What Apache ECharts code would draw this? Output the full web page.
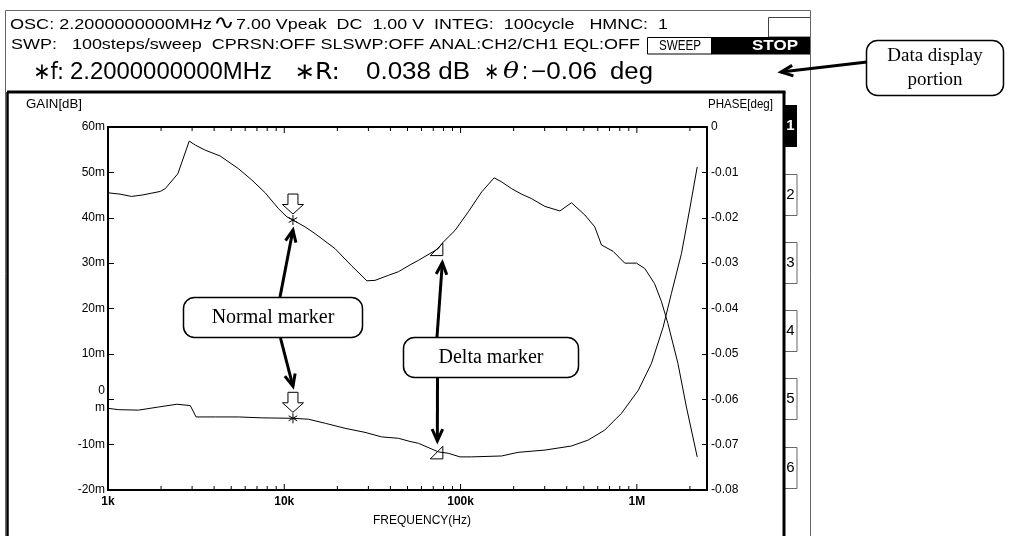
<!DOCTYPE html>
<html><head><meta charset="utf-8">
<script src="https://cdn.jsdelivr.net/npm/echarts@6/dist/echarts.min.js"></script>
<style>html,body{margin:0;padding:0;background:#fff}#c{width:1018px;height:536px}</style>
</head><body><div id="c"></div>
<script>
// ---- data ----
const gainFreqHz = [1000,1170,1360,1560,1980,2110,2490,2890,3130,3560,4330,5500,6550,7790,9270,10350,11200,13100,14950,19400,24100,29400,32700,38900,44400,51600,57600,74800,78200,93000,110600,131800,155000,171000,195000,222000,253000,301000,366000,426000,507000,577000,630000,733000,854000,995000,1110000,1260000,1380000,1500000,1710000,1910000,2200000];
const gainMilliDb = [45.5,45.2,44.7,45.0,45.8,46.4,49.7,56.9,56.0,54.9,53.6,50.8,48.3,45.5,42.0,40.2,39.5,38.0,36.5,33.2,29.4,26.1,26.2,27.3,28.1,29.6,30.6,33.2,34.3,37.2,41.3,45.7,48.8,47.9,46.4,45.2,44.2,42.5,41.5,43.3,40.6,38.0,34.0,32.6,30.0,30.0,28.8,25.5,21.5,16.7,7.9,-1.7,-12.7];
const phaseFreqHz = [1000,1150,1490,1940,2460,2930,3160,4060,5500,7460,11200,13700,17100,22100,28700,35700,44400,51600,57600,74800,85000,99300,115600,171000,212000,301000,426000,529000,657000,818000,1020000,1210000,1410000,1570000,1790000,1990000,2200000];
const phaseDeg = [-0.0620,-0.0623,-0.0624,-0.0617,-0.0611,-0.0614,-0.0639,-0.0639,-0.0639,-0.0641,-0.0642,-0.0644,-0.0653,-0.0664,-0.0673,-0.0683,-0.0686,-0.0693,-0.0697,-0.0716,-0.0719,-0.0727,-0.0727,-0.0725,-0.0717,-0.0712,-0.0703,-0.0690,-0.0668,-0.0631,-0.0580,-0.0521,-0.0441,-0.0367,-0.0279,-0.0183,-0.0088];
const normalMarkerHz = 11200;
const deltaMarkerHz = 74800;
const freqLabels = {1000:'1k',10000:'10k',100000:'100k',1000000:'1M'};
const gainTickLabels = ['-20m','-10m','0\nm','10m','20m','30m','40m','50m','60m'];
const phaseTickLabels = ['-0.08','-0.07','-0.06','-0.05','-0.04','-0.03','-0.02','-0.01','0'];
const headerRow1 = ['OSC: 2.2000000000MHz','7.00 Vpeak  DC  1.00 V  INTEG:  100cycle   HMNC:  1'];
const headerRow2 = ['SWP:   100steps/sweep  CPRSN:OFF SLSWP:OFF ANAL:CH2/CH1 EQL:OFF'];
const headerRow3 = ['∗f:','2.2000000000MHz','∗R:','0.038 dB','∗','θ',':','−0.06','deg'];

// ---- layout (pixel spans for header words) ----
const row1Span = [[10,212],[236,668]];
const row2Span = [[11,640]];
const row3Span = [[33,64],[70,272],[294,340],[366,470],[484,499],[503,519],[522,528],[531,597],[610,653]];

// ---- chart ----
const gainData = gainFreqHz.map((f,i)=>[f,gainMilliDb[i]]);
const phaseData = phaseFreqHz.map((f,i)=>[f,phaseDeg[i]]);
const gIdx = (f)=>gainFreqHz.indexOf(f), pIdx=(f)=>phaseFreqHz.indexOf(f);
const gainMarkers = [[normalMarkerHz, gainMilliDb[gIdx(normalMarkerHz)], 0],[deltaMarkerHz, gainMilliDb[gIdx(deltaMarkerHz)], 1]];
const phaseMarkers = [[normalMarkerHz, phaseDeg[pIdx(normalMarkerHz)], 0],[deltaMarkerHz, phaseDeg[pIdx(deltaMarkerHz)], 1]];
const xTicks = [];
for (let d=1000; d<2.5e6; d*=10) for (let m=1;m<=9;m++){const f=d*m; if(f>1000 && f<2.5e6) xTicks.push([f, m===1?1:0]);}

const FONT = '"Liberation Sans", Arial, sans-serif';
const chart = echarts.init(document.getElementById('c'), null, {renderer:'canvas'});

function markerItem(params, api){
  const p = api.coord([api.value(0), api.value(1)]);
  const x=p[0], y=p[1], kind=api.value(2);
  const st = {stroke:'#000', fill:'#fff', lineWidth:1};
  if (kind===0){
    const r=5, h=10.5;
    return {type:'group', children:[
      {type:'polygon', shape:{points:[[x-r,y-26],[x+r,y-26],[x+r,y-15.5],[x+h,y-15.5],[x,y-6],[x-h,y-15.5],[x-r,y-15.5]]}, style:st},
      {type:'line', shape:{x1:x,y1:y-5,x2:x,y2:y+5}, style:{stroke:'#000',lineWidth:1}},
      {type:'line', shape:{x1:x-4.3,y1:y-2.5,x2:x+4.3,y2:y+2.5}, style:{stroke:'#000',lineWidth:1}},
      {type:'line', shape:{x1:x-4.3,y1:y+2.5,x2:x+4.3,y2:y-2.5}, style:{stroke:'#000',lineWidth:1}}
    ]};
  }
  return {type:'polygon', shape:{points:[[x-8,y+7],[x+4.5,y+7],[x+4.5,y-5.5]]}, style:{stroke:'#000', fill:'none', lineWidth:1}};
}

chart.setOption({
  animation:false,
  grid:{left:108, top:127, width:599, height:363, show:true, borderColor:'#000', borderWidth:2, backgroundColor:'transparent'},
  xAxis:{type:'log', logBase:10, min:1000, max:2.5e6,
    axisLine:{show:true, onZero:false, lineStyle:{color:'#000', width:2}}, axisTick:{show:false}, splitLine:{show:false},
    axisLabel:{color:'#000', fontFamily:FONT, fontWeight:'bold', fontSize:12, margin:6, showMaxLabel:false,
      formatter:(v)=>freqLabels[Math.round(v)]||''}},
  yAxis:[
    {type:'value', min:-20, max:60, interval:10, position:'left',
     axisLine:{show:true, onZero:false, lineStyle:{color:'#000', width:2}},
     axisTick:{show:true, inside:true, length:6, lineStyle:{color:'#000', width:1}},
     splitLine:{show:false},
     axisLabel:{color:'#000', fontFamily:FONT, fontSize:12, margin:3, lineHeight:17,
       formatter:(v)=>gainTickLabels[Math.round((v+20)/10)]}},
    {type:'value', min:-0.08, max:0, interval:0.01, position:'right',
     axisLine:{show:true, onZero:false, lineStyle:{color:'#000', width:2}},
     axisTick:{show:true, inside:true, length:5, lineStyle:{color:'#000', width:1}},
     splitLine:{show:false},
     axisLabel:{color:'#000', fontFamily:FONT, fontSize:12, margin:4,
       formatter:(v)=>phaseTickLabels[Math.round((v+0.08)*100)]}}
  ],
  series:[
    {type:'line', name:'GAIN', yAxisIndex:0, data:gainData, showSymbol:false, symbol:'none', lineStyle:{color:'#000', width:1}, silent:true},
    {type:'line', name:'PHASE', yAxisIndex:1, data:phaseData, showSymbol:false, symbol:'none', lineStyle:{color:'#000', width:1}, silent:true},
    {type:'custom', yAxisIndex:0, data:xTicks, silent:true, clip:false, z:5,
     renderItem:(params, api)=>{
       const cs=params.coordSys; const x=api.coord([api.value(0), 0])[0]; const L=api.value(1)?6:4;
       const b=cs.y+cs.height, t=cs.y;
       return {type:'group', children:[
         {type:'line', shape:{x1:x,y1:b,x2:x,y2:b-L}, style:{stroke:'#000',lineWidth:1}},
         {type:'line', shape:{x1:x,y1:t,x2:x,y2:t+L}, style:{stroke:'#000',lineWidth:1}}]};
     }},
    {type:'custom', yAxisIndex:0, data:gainMarkers, renderItem:markerItem, silent:true, clip:false, z:6},
    {type:'custom', yAxisIndex:1, data:phaseMarkers, renderItem:markerItem, silent:true, clip:false, z:6}
  ]
});

// ---- annotations ----
const mctx = document.createElement('canvas').getContext('2d');
function txt(t,x,y,font,opt){opt=opt||{};return {type:'text', x:x, y:y, z:opt.z||10, style:{text:t, font:font, fill:opt.fill||'#000', align:opt.align||'left', textAlign:opt.align||'left', verticalAlign:'middle', textVerticalAlign:'middle'}};}
function fit(t,x0,x1,y,font,opt){
  mctx.font=font; const w=mctx.measureText(t).width;
  const e=txt(t,x0,y,font,opt); e.scaleX=(x1-x0)/w; return e;
}
function ln(x1,y1,x2,y2,w,c){return {type:'line', z:8, shape:{x1,y1,x2,y2}, style:{stroke:c||'#000', lineWidth:w||1}};}
function rect(x,y,w,h,fill,stroke,lw,r){return {type:'rect', z:7, shape:{x,y,width:w,height:h,r:r||0}, style:{fill:fill, stroke:stroke||null, lineWidth:lw||1}};}
function arrow(x1,y1,x2,y2){
  const a=Math.atan2(y2-y1,x2-x1), L=13, s=0.42;
  return [ln(x1,y1,x2,y2,3),
    {type:'polyline', z:8, shape:{points:[[x2-L*Math.cos(a-s),y2-L*Math.sin(a-s)],[x2,y2],[x2-L*Math.cos(a+s),y2-L*Math.sin(a+s)]]}, style:{stroke:'#000', lineWidth:3, fill:null, lineJoin:'miter'}}];
}
const px = (f,v,yi)=>chart.convertToPixel({xAxisIndex:0, yAxisIndex:yi}, [f,v]);
const nG = px(normalMarkerHz, gainMarkers[0][1], 0), nP = px(normalMarkerHz, phaseMarkers[0][1], 1);
const dG = px(deltaMarkerHz, gainMarkers[1][1], 0), dP = px(deltaMarkerHz, phaseMarkers[1][1], 1);

const SERIF = '"Liberation Serif", "Times New Roman", serif';
const g = [];
// frames
g.push(ln(5.5,10.5,5.5,536,1,'#666'), ln(5.5,10.5,810.5,10.5,1,'#666'), ln(810.5,10.5,810.5,536,1,'#666'));
g.push(rect(768.5,17.5,42,19.5,'#fff','#444',1));
g.push(ln(7,92,785.5,92,3), ln(7.5,92,7.5,536,2.5), ln(784,92,784,536,3));
// header
const F1 = '15px '+FONT;
headerRow1.forEach((t,i)=>g.push(fit(t,row1Span[i][0],row1Span[i][1],25,F1)));
g.push(fit('∿',213,235,24,'20px "DejaVu Sans"'));
headerRow2.forEach((t,i)=>g.push(fit(t,row2Span[i][0],row2Span[i][1],45,F1)));
g.push(rect(647.5,37.5,64,16.5,'#fff','#000',1));
g.push(fit('SWEEP',659,701,45.5,F1));
g.push(rect(711,37,100,17.5,'#000'));
g.push(fit('STOP',752,798,45.5,'bold 15px '+FONT,{fill:'#fff'}));
headerRow3.forEach((t,i)=>{
  const f = t==='θ' ? 'italic 23px "DejaVu Serif"' : (t==='∗'||t.startsWith('∗')) ? '23px "DejaVu Sans"' : '23px '+FONT;
  g.push(fit(t,row3Span[i][0],row3Span[i][1],t==='θ'?72:73,f));
});
// axis names
g.push(fit('GAIN[dB]',26,82,105,'12px '+FONT));
g.push(fit('PHASE[deg]',708,773,105,'12px '+FONT));
g.push(txt('FREQUENCY(Hz)',422,521,'12px '+FONT,{align:'center'}));
// side tabs
const tabY=[105,174,242,310,378,447];
tabY.forEach((y,i)=>{
  if(i===0){g.push(rect(784,y,13,42,'#000')); g.push(txt(String(i+1),790.5,y+21,'bold 15px '+FONT,{align:'center',fill:'#fff',z:11}));}
  else {g.push(rect(784.5,y+0.5,12.5,41,'#fff','#666',1)); g.push(txt(String(i+1),790.5,y+21,'15px '+FONT,{align:'center',z:11}));}
});
// data display callout
g.push(rect(866.5,40.5,137,55,'#fff','#000',1.5,11));
g.push(txt('Data display',935,56,'19px '+SERIF,{align:'center'}));
g.push(txt('portion',935,80,'19px '+SERIF,{align:'center'}));
g.push(...arrow(867,62,781,72));
// normal marker callout
g.push(rect(183.5,297.5,179,40,'#fff','#000',1.5,11));
g.push(txt('Normal marker',273,318,'20px '+SERIF,{align:'center'}));
g.push(...arrow(280,297,nG[0],nG[1]+10));
g.push(...arrow(280.5,338,nP[0],nP[1]-32));
// delta marker callout
g.push(rect(403.5,337.5,175,40,'#fff','#000',1.5,11));
g.push(txt('Delta marker',491,358,'20px '+SERIF,{align:'center'}));
g.push(...arrow(437,337,dG[0]+4,dG[1]+14));
g.push(...arrow(437.5,378,dP[0]-1,dP[1]-11));

chart.setOption({graphic:{elements:g}});
</script>
</body></html>
